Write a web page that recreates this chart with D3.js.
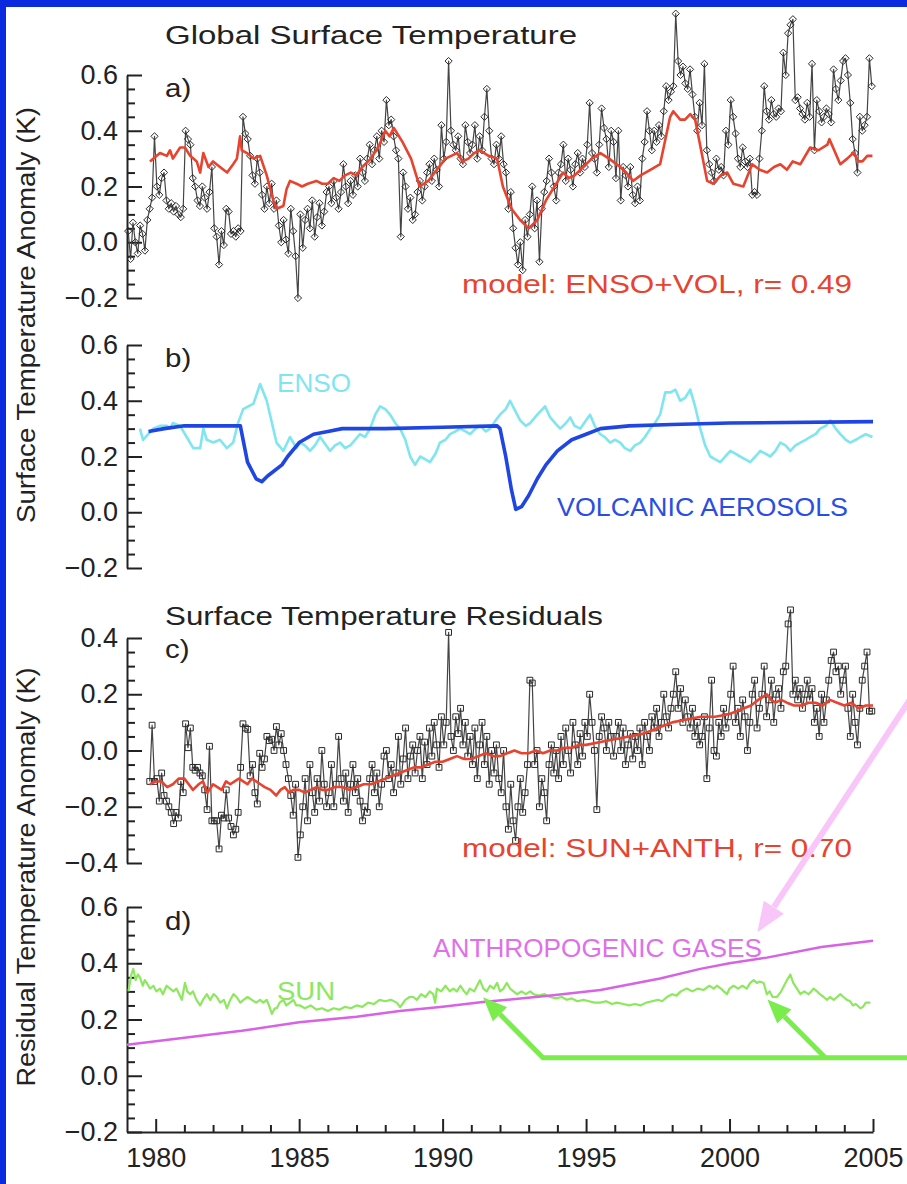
<!DOCTYPE html>
<html><head><meta charset="utf-8">
<script src="https://cdn.jsdelivr.net/npm/d3@7"></script>
<style>
body{margin:0;background:#fff}
svg{display:block}
text{font-family:"Liberation Sans",Arial,sans-serif}
</style>
</head><body>
<svg id="chart" width="907" height="1184"></svg>
<script>
// ---------------- DATA ----------------
const startYear = 1979, endYear = 2005;
const yearTicks = [1980, 1985, 1990, 1995, 2000, 2005];
const tickAB = [-0.2, 0.0, 0.2, 0.4, 0.6];
const tickC = [-0.4, -0.2, 0.0, 0.2, 0.4];

// (a) monthly global surface temperature anomaly, Jan 1979 .. Dec 2004
const tempA = [
  0.04,-0.06,0.07,0.0,-0.04,0.06,0.03,-0.03,0.08,0.12,0.16,0.38,
  0.2,0.17,0.23,0.25,0.15,0.12,0.14,0.11,0.13,0.1,0.09,0.12,
  0.4,0.37,0.35,0.23,0.2,0.15,0.13,0.2,0.16,0.12,0.18,0.27,
  0.05,0.02,-0.08,0.04,-0.01,0.12,0.11,0.03,0.04,0.02,0.05,0.04,
  0.45,0.39,0.37,0.31,0.24,0.21,0.3,0.25,0.17,0.12,0.2,0.14,
  0.21,0.12,0.15,0.06,0.0,0.08,0.01,-0.04,0.12,0.04,-0.05,-0.2,
  0.1,-0.02,0.08,0.12,0.05,0.15,0.02,0.09,0.14,0.06,0.11,0.18,
  0.2,0.14,0.22,0.16,0.12,0.18,0.28,0.2,0.14,0.22,0.17,0.24,
  0.2,0.3,0.25,0.22,0.3,0.35,0.28,0.33,0.38,0.3,0.4,0.36,
  0.51,0.42,0.44,0.38,0.33,0.3,0.02,0.25,0.2,0.12,0.16,0.08,
  0.1,0.18,0.22,0.15,0.2,0.25,0.28,0.22,0.3,0.26,0.2,0.42,
  0.3,0.36,0.65,0.4,0.35,0.33,0.38,0.3,0.28,0.42,0.36,0.32,
  0.35,0.42,0.3,0.38,0.33,0.45,0.55,0.4,0.3,0.28,0.35,0.3,
  0.38,0.28,0.25,0.12,0.18,0.05,-0.02,-0.08,0.0,-0.1,0.08,0.02,
  0.1,0.2,0.05,0.15,-0.07,0.12,0.18,0.22,0.3,0.25,0.2,0.15,
  0.25,0.28,0.35,0.22,0.3,0.26,0.2,0.28,0.32,0.25,0.3,0.27,
  0.35,0.5,0.32,0.3,0.25,0.35,0.48,0.41,0.37,0.27,0.4,0.36,
  0.23,0.4,0.15,0.27,0.24,0.2,0.27,0.17,0.14,0.2,0.15,0.3,
  0.36,0.47,0.4,0.33,0.4,0.36,0.42,0.38,0.47,0.56,0.51,0.54,
  0.56,0.82,0.65,0.6,0.63,0.57,0.55,0.62,0.53,0.45,0.4,0.5,
  0.42,0.64,0.33,0.28,0.25,0.22,0.3,0.26,0.27,0.24,0.4,0.35,
  0.51,0.45,0.39,0.3,0.27,0.34,0.29,0.27,0.3,0.17,0.18,0.17,
  0.3,0.4,0.56,0.47,0.44,0.51,0.46,0.45,0.48,0.47,0.68,0.6,
  0.75,0.78,0.8,0.51,0.52,0.48,0.46,0.44,0.5,0.45,0.64,0.33,
  0.51,0.47,0.43,0.45,0.48,0.46,0.43,0.62,0.55,0.51,0.58,0.65,
  0.66,0.6,0.5,0.37,0.32,0.25,0.45,0.4,0.42,0.45,0.66,0.56
];

// (a) model ENSO+VOL  [year, K]
const modelA = [[1979.8,0.29],[1980.15,0.32],[1980.39,0.31],[1980.5,0.33],[1980.6,0.30],[1980.85,0.34],[1981.02,0.34],[1981.2,0.31],[1981.43,0.29],[1981.55,0.25],[1981.66,0.32],[1981.84,0.27],[1982.0,0.29],[1982.24,0.27],[1982.49,0.25],[1982.7,0.28],[1982.83,0.30],[1982.94,0.38],[1983.0,0.33],[1983.18,0.32],[1983.41,0.30],[1983.64,0.31],[1983.87,0.24],[1984.1,0.15],[1984.21,0.12],[1984.45,0.13],[1984.56,0.19],[1984.68,0.22],[1984.91,0.21],[1985.1,0.20],[1985.3,0.21],[1985.6,0.22],[1985.8,0.21],[1986.0,0.21],[1986.2,0.23],[1986.4,0.22],[1986.6,0.24],[1986.8,0.25],[1987.0,0.24],[1987.2,0.27],[1987.5,0.30],[1987.8,0.35],[1988.0,0.40],[1988.15,0.38],[1988.3,0.41],[1988.6,0.36],[1988.9,0.30],[1989.2,0.20],[1989.5,0.22],[1989.8,0.26],[1990.1,0.30],[1990.3,0.31],[1990.5,0.32],[1990.7,0.29],[1990.9,0.30],[1991.1,0.32],[1991.3,0.33],[1991.6,0.31],[1991.9,0.30],[1992.1,0.20],[1992.4,0.12],[1992.7,0.08],[1993.0,0.05],[1993.3,0.08],[1993.6,0.15],[1993.9,0.20],[1994.2,0.25],[1994.4,0.23],[1994.6,0.24],[1994.9,0.27],[1995.2,0.30],[1995.5,0.32],[1995.8,0.30],[1996.19,0.27],[1996.4,0.25],[1996.64,0.22],[1996.9,0.24],[1997.24,0.26],[1997.58,0.28],[1997.93,0.45],[1998.04,0.47],[1998.28,0.44],[1998.45,0.44],[1998.63,0.46],[1998.8,0.44],[1999.22,0.22],[1999.43,0.21],[1999.7,0.24],[1999.92,0.25],[2000.13,0.21],[2000.48,0.20],[2000.79,0.28],[2001.05,0.26],[2001.31,0.25],[2001.55,0.27],[2001.77,0.28],[2002.0,0.26],[2002.2,0.29],[2002.47,0.28],[2002.81,0.34],[2003.1,0.33],[2003.41,0.35],[2003.48,0.37],[2003.86,0.28],[2004.1,0.30],[2004.31,0.32],[2004.5,0.29],[2004.63,0.29],[2004.8,0.31],[2004.98,0.31]];

// (b) ENSO and volcanic components
const enso = [[1979.45,0.30],[1979.56,0.26],[1979.74,0.28],[1979.91,0.30],[1980.15,0.31],[1980.39,0.31],[1980.5,0.30],[1980.6,0.32],[1980.85,0.31],[1981.08,0.27],[1981.31,0.23],[1981.55,0.23],[1981.66,0.30],[1981.78,0.26],[1982.01,0.25],[1982.24,0.26],[1982.48,0.23],[1982.7,0.25],[1982.87,0.32],[1983.05,0.37],[1983.41,0.39],[1983.64,0.46],[1983.87,0.40],[1984.21,0.25],[1984.45,0.22],[1984.68,0.27],[1984.91,0.23],[1985.03,0.25],[1985.2,0.24],[1985.38,0.22],[1985.55,0.24],[1985.73,0.27],[1085.9,0.25].slice(0,0),[1986.08,0.22],[1986.25,0.24],[1986.43,0.25],[1986.6,0.23],[1986.78,0.24],[1986.95,0.26],[1987.12,0.28],[1987.3,0.27],[1987.47,0.30],[1987.65,0.35],[1987.82,0.38],[1988.0,0.37],[1988.17,0.35],[1988.35,0.32],[1988.52,0.30],[1988.7,0.26],[1988.87,0.20],[1989.04,0.17],[1989.22,0.20],[1989.4,0.19],[1989.56,0.18],[1989.75,0.21],[1989.91,0.25],[1990.1,0.26],[1990.26,0.28],[1990.45,0.29],[1990.61,0.30],[1990.8,0.29],[1990.96,0.28],[1991.15,0.30],[1991.31,0.31],[1991.5,0.29],[1991.66,0.30],[1991.85,0.33],[1992.0,0.35],[1992.2,0.37],[1992.35,0.40],[1992.5,0.37],[1992.7,0.33],[1992.9,0.31],[1993.05,0.32],[1993.3,0.35],[1993.57,0.38],[1993.75,0.34],[1993.92,0.32],[1994.1,0.30],[1994.3,0.32],[1994.45,0.34],[1994.6,0.31],[1994.8,0.30],[1995.0,0.33],[1995.14,0.35],[1995.3,0.31],[1995.49,0.28],[1995.65,0.27],[1995.84,0.25],[1996.0,0.26],[1996.19,0.25],[1996.35,0.23],[1996.54,0.22],[1996.7,0.24],[1996.89,0.25],[1997.05,0.27],[1997.24,0.30],[1997.4,0.32],[1997.58,0.35],[1997.76,0.43],[1997.95,0.43],[1998.11,0.44],[1998.28,0.40],[1998.45,0.41],[1998.63,0.44],[1998.8,0.38],[1998.98,0.30],[1999.15,0.24],[1999.33,0.20],[1999.5,0.19],[1999.68,0.18],[1999.85,0.20],[2000.03,0.22],[2000.2,0.21],[2000.37,0.20],[2000.55,0.19],[2000.72,0.18],[2000.9,0.20],[2001.07,0.22],[2001.25,0.21],[2001.42,0.20],[2001.6,0.22],[2001.77,0.25],[2001.95,0.24],[2002.12,0.22],[2002.3,0.24],[2002.47,0.25],[2002.65,0.26],[2002.81,0.27],[2003.0,0.28],[2003.16,0.30],[2003.35,0.31],[2003.51,0.33],[2003.7,0.30],[2003.86,0.28],[2004.05,0.26],[2004.21,0.25],[2004.4,0.26],[2004.56,0.27],[2004.75,0.28],[2004.98,0.27]].filter(p => p.length === 2);
const volcanic = [[1979.75,0.29],[1980.3,0.30],[1981.0,0.31],[1982.0,0.31],[1982.95,0.31],[1983.2,0.18],[1983.5,0.12],[1983.7,0.11],[1983.9,0.13],[1984.4,0.17],[1984.6,0.20],[1985.0,0.25],[1985.5,0.28],[1986.0,0.29],[1986.5,0.30],[1988.0,0.30],[1990.0,0.305],[1991.9,0.31],[1992.0,0.30],[1992.2,0.20],[1992.4,0.08],[1992.55,0.01],[1992.75,0.02],[1993.0,0.06],[1993.3,0.12],[1993.6,0.17],[1994.0,0.22],[1994.5,0.26],[1995.0,0.28],[1995.5,0.30],[1996.5,0.31],[1998.0,0.315],[2000.0,0.32],[2005.0,0.325]];

// (c) residuals, monthly from Oct 1979 .. Dec 2004
const residStart = 1979 + 9/12;
const residC = [
  -0.11,0.09,-0.11,
  -0.1,-0.18,-0.08,-0.16,-0.18,-0.2,-0.22,-0.26,-0.22,-0.24,-0.11,-0.15,
  0.095,0.01,0.08,-0.06,-0.07,-0.06,-0.08,-0.09,-0.14,-0.21,0.015,-0.25,
  -0.25,-0.25,-0.35,-0.23,-0.24,-0.14,-0.24,-0.27,-0.3,-0.28,-0.22,-0.06,
  0.095,0.08,0.075,-0.09,-0.05,-0.15,-0.19,-0.01,-0.06,-0.03,0.05,0.035,
  0.04,0.0,0.085,0.02,0.06,0.0,-0.05,-0.1,-0.16,-0.23,-0.12,-0.38,
  -0.3,-0.2,-0.1,-0.25,-0.05,-0.15,-0.22,-0.1,-0.18,0.0,-0.12,-0.2,
  -0.15,-0.05,-0.2,-0.12,0.05,-0.1,-0.18,-0.08,-0.22,-0.12,-0.05,-0.15,
  -0.1,-0.18,-0.25,-0.2,-0.22,-0.1,-0.05,-0.15,-0.08,-0.2,-0.12,-0.02,
  0.0,-0.1,-0.05,-0.15,-0.08,0.05,-0.12,-0.03,0.08,-0.1,-0.02,0.02,
  -0.08,0.0,0.05,-0.1,0.03,-0.05,0.08,-0.02,0.1,0.02,-0.06,0.12,
  0.02,0.1,0.42,0.05,0.0,0.12,0.06,0.15,0.02,0.1,-0.02,0.05,
  -0.05,0.08,-0.1,0.02,0.1,-0.05,0.05,-0.12,0.0,-0.08,0.02,-0.1,
  -0.15,0.0,-0.2,-0.28,-0.12,-0.25,-0.32,-0.2,-0.1,-0.22,-0.15,-0.05,
  0.25,0.24,-0.05,0.0,-0.2,-0.1,-0.15,-0.25,-0.05,0.02,-0.08,0.0,
  -0.1,0.05,-0.05,0.08,0.0,-0.08,0.1,0.02,-0.05,0.06,-0.02,0.1,
  0.05,0.2,0.1,0.0,-0.21,0.05,0.12,0.08,0.0,0.1,0.05,-0.02,
  0.05,0.1,0.0,0.08,-0.05,0.02,0.06,-0.03,0.05,0.0,0.08,-0.05,
  0.1,0.05,0.0,0.12,0.08,0.15,0.05,0.1,0.2,0.12,0.08,0.15,
  0.2,0.28,0.15,0.22,0.1,0.18,0.12,0.08,0.15,0.05,0.1,0.02,
  0.05,0.12,-0.1,0.08,0.25,0.0,-0.02,0.1,0.05,0.15,0.08,0.12,
  0.2,0.3,0.1,0.15,0.05,0.18,0.12,0.0,0.1,0.2,0.25,0.08,
  0.15,0.2,0.3,0.12,0.18,0.25,0.1,0.2,0.22,0.15,0.28,0.3,
  0.45,0.5,0.2,0.25,0.18,0.22,0.15,0.2,0.25,0.18,0.22,0.1,
  0.15,0.05,0.2,0.1,0.18,0.25,0.32,0.35,0.28,0.3,0.2,0.25,
  0.3,0.15,0.05,0.2,0.1,0.02,0.15,0.25,0.3,0.35,0.14,0.14
];

// (c) model SUN+ANTH
const modelC = [[1979.8,-0.12],[1980.0,-0.11],[1980.2,-0.11],[1980.4,-0.13],[1980.6,-0.12],[1980.8,-0.10],[1981.0,-0.10],[1981.15,-0.12],[1981.3,-0.14],[1981.5,-0.12],[1981.65,-0.11],[1981.8,-0.15],[1982.0,-0.12],[1982.15,-0.13],[1982.3,-0.14],[1982.45,-0.11],[1982.6,-0.12],[1982.75,-0.11],[1982.9,-0.10],[1983.05,-0.11],[1983.2,-0.12],[1983.35,-0.10],[1983.5,-0.11],[1983.65,-0.12],[1983.8,-0.13],[1984.0,-0.14],[1984.2,-0.16],[1984.35,-0.14],[1984.5,-0.13],[1984.65,-0.15],[1984.8,-0.14],[1985.0,-0.14],[1985.2,-0.15],[1985.4,-0.14],[1985.6,-0.13],[1985.8,-0.14],[1986.0,-0.14],[1986.25,-0.13],[1986.5,-0.13],[1986.75,-0.14],[1987.0,-0.13],[1987.25,-0.12],[1987.5,-0.12],[1987.75,-0.11],[1988.0,-0.10],[1988.25,-0.09],[1988.5,-0.08],[1988.75,-0.07],[1989.0,-0.06],[1989.25,-0.06],[1989.5,-0.05],[1989.75,-0.04],[1990.0,-0.04],[1990.25,-0.03],[1990.5,-0.02],[1990.75,-0.03],[1991.0,-0.03],[1991.25,-0.02],[1991.5,-0.01],[1991.75,-0.02],[1992.0,-0.02],[1992.25,-0.01],[1992.5,0.0],[1992.75,-0.01],[1993.0,-0.01],[1993.25,0.0],[1993.5,-0.01],[1993.75,0.0],[1994.0,0.0],[1994.25,0.01],[1994.5,0.01],[1994.75,0.02],[1995.0,0.02],[1995.5,0.03],[1996.0,0.04],[1996.5,0.05],[1997.0,0.06],[1997.5,0.08],[1998.0,0.10],[1998.5,0.11],[1999.0,0.12],[1999.5,0.12],[2000.0,0.13],[2000.25,0.14],[2000.5,0.15],[2000.75,0.16],[2001.0,0.18],[2001.15,0.19],[2001.3,0.20],[2001.45,0.18],[2001.6,0.17],[2001.8,0.18],[2002.0,0.17],[2002.25,0.16],[2002.5,0.16],[2002.75,0.17],[2003.0,0.17],[2003.25,0.16],[2003.5,0.18],[2003.75,0.17],[2004.0,0.16],[2004.25,0.17],[2004.5,0.15],[2004.75,0.16],[2005.0,0.16]];

// (d) solar and anthropogenic components
const sun = [[1979.05,0.30],[1979.15,0.36],[1979.22,0.38],[1979.3,0.34],[1979.38,0.36],[1979.45,0.35],[1979.55,0.32],[1979.62,0.34],[1979.69,0.33],[1979.8,0.31],[1979.92,0.32],[1980.02,0.30],[1980.15,0.31],[1980.25,0.29],[1980.38,0.32],[1980.5,0.31],[1980.62,0.30],[1980.72,0.31],[1980.82,0.29],[1980.91,0.27],[1981.02,0.33],[1981.1,0.30],[1981.2,0.29],[1981.3,0.30],[1981.42,0.27],[1981.55,0.25],[1981.65,0.27],[1981.78,0.29],[1981.9,0.27],[1982.02,0.29],[1982.13,0.28],[1982.25,0.26],[1982.38,0.27],[1982.48,0.24],[1982.6,0.27],[1982.71,0.29],[1982.82,0.28],[1982.95,0.26],[1983.06,0.27],[1983.2,0.28],[1983.35,0.27],[1983.5,0.26],[1983.64,0.27],[1983.75,0.26],[1983.87,0.27],[1983.95,0.25],[1984.05,0.22],[1984.15,0.24],[1984.22,0.24],[1984.32,0.26],[1984.45,0.27],[1984.55,0.25],[1984.68,0.26],[1984.8,0.27],[1984.9,0.25],[1985.03,0.25],[1985.2,0.24],[1985.4,0.25],[1985.6,0.235],[1985.8,0.24],[1986.0,0.23],[1986.2,0.24],[1986.4,0.235],[1986.6,0.245],[1986.8,0.24],[1987.0,0.25],[1987.2,0.245],[1987.4,0.26],[1987.6,0.255],[1987.8,0.27],[1988.0,0.265],[1988.2,0.27],[1988.4,0.26],[1988.52,0.244],[1988.7,0.27],[1988.85,0.28],[1988.98,0.28],[1989.1,0.27],[1989.25,0.29],[1989.4,0.28],[1989.55,0.30],[1989.67,0.29],[1989.74,0.26],[1989.8,0.31],[1989.95,0.30],[1990.1,0.32],[1990.25,0.30],[1990.37,0.31],[1990.5,0.30],[1990.62,0.32],[1990.75,0.30],[1990.84,0.29],[1990.95,0.31],[1991.1,0.30],[1991.2,0.32],[1991.3,0.34],[1991.42,0.31],[1991.54,0.30],[1991.65,0.32],[1991.78,0.31],[1991.9,0.33],[1992.0,0.30],[1992.12,0.31],[1992.24,0.33],[1992.35,0.31],[1992.47,0.30],[1992.59,0.29],[1992.75,0.30],[1992.9,0.29],[1993.05,0.30],[1993.17,0.29],[1993.35,0.285],[1993.55,0.29],[1993.75,0.28],[1993.95,0.275],[1994.15,0.28],[1994.33,0.27],[1994.5,0.275],[1994.7,0.265],[1994.91,0.27],[1995.1,0.265],[1995.3,0.26],[1995.49,0.26],[1995.7,0.265],[1995.9,0.255],[1996.07,0.26],[1996.3,0.255],[1996.5,0.25],[1996.7,0.255],[1996.89,0.25],[1997.1,0.26],[1997.3,0.265],[1997.5,0.27],[1997.65,0.265],[1997.82,0.28],[1998.0,0.29],[1998.15,0.285],[1998.3,0.30],[1998.51,0.31],[1998.7,0.30],[1998.9,0.31],[1999.1,0.305],[1999.3,0.32],[1999.45,0.31],[1999.56,0.32],[1999.7,0.31],[1999.8,0.30],[1999.91,0.29],[2000.0,0.31],[2000.14,0.32],[2000.3,0.31],[2000.45,0.32],[2000.6,0.31],[2000.72,0.33],[2000.84,0.34],[2000.95,0.33],[2001.05,0.335],[2001.19,0.33],[2001.3,0.29],[2001.4,0.30],[2001.5,0.28],[2001.65,0.28],[2001.8,0.30],[2001.9,0.32],[2002.0,0.34],[2002.12,0.36],[2002.22,0.33],[2002.35,0.31],[2002.47,0.29],[2002.6,0.30],[2002.75,0.29],[2002.85,0.30],[2002.93,0.31],[2003.05,0.30],[2003.15,0.29],[2003.28,0.28],[2003.4,0.27],[2003.5,0.28],[2003.63,0.27],[2003.75,0.28],[2003.86,0.29],[2003.97,0.28],[2004.09,0.27],[2004.2,0.265],[2004.3,0.25],[2004.4,0.255],[2004.56,0.24],[2004.65,0.245],[2004.75,0.26],[2004.91,0.26]];
const anthro = [[1979.0,0.11],[1981.0,0.135],[1983.0,0.16],[1985.0,0.19],[1987.0,0.21],[1988.5,0.23],[1990.0,0.245],[1991.4,0.262],[1993.85,0.286],[1995.5,0.305],[1997.58,0.346],[1998.98,0.38],[2000.0,0.40],[2001.3,0.42],[2003.2,0.458],[2005.0,0.48]];

// annotation arrows in panel (d) data units
const pinkArrow = [[2006.3, 1.34], [2000.97, 0.51]];
const greenArrow1 = [[2006.3, 0.064], [1993.5, 0.064], [1991.41, 0.279]];
const greenArrow2 = [[2003.34, 0.064], [2001.32, 0.271]];

// ---------------- DRAWING ----------------
const svg = d3.select("#chart");
const W = 907, H = 1184;
svg.append("rect").attr("width", W).attr("height", H).attr("fill", "#0b2ae0");
svg.append("rect").attr("x", 6).attr("y", 7).attr("width", W - 6).attr("height", H - 7).attr("fill", "#fff");

const x = d3.scaleLinear().domain([startYear, endYear]).range([127, 873]);
const yA = d3.scaleLinear().domain([-0.2, 0.6]).range([298, 75]);
const yB = d3.scaleLinear().domain([-0.2, 0.6]).range([568, 345]);
const yC = d3.scaleLinear().domain([-0.4, 0.4]).range([863, 638]);
const yD = d3.scaleLinear().domain([-0.2, 0.6]).range([1132, 907]);

const AX = "#222";
function styleAxis(g) {
  g.selectAll(".domain").attr("stroke", AX).attr("stroke-width", 2);
  g.selectAll(".tick line").attr("stroke", AX).attr("stroke-width", 2);
  g.selectAll(".tick text").attr("font-size", 27).attr("fill", AX)
    .attr("font-family", '"Liberation Sans",Arial,sans-serif');
  g.attr("font-family", null).attr("font-size", null);
}
function yAxis(y, majors) {
  const [lo, hi] = y.domain();
  const minors = d3.range(Math.round(lo * 20), Math.round(hi * 20) + 1).map(k => k / 20)
    .filter(v => !majors.some(m => Math.abs(m - v) < 1e-6));
  const g = svg.append("g").attr("transform", `translate(${x(startYear)},0)`);
  g.call(d3.axisLeft(y).tickValues(majors).tickSize(-15).tickSizeOuter(0).tickPadding(9).tickFormat(d3.format(".1f")));
  g.append("g").call(d3.axisLeft(y).tickValues(minors).tickSize(-8).tickSizeOuter(0).tickFormat(""))
    .select(".domain").remove();
  styleAxis(g);
}
yAxis(yA, tickAB);
yAxis(yB, tickAB);
yAxis(yC, tickC);
yAxis(yD, tickAB);

// x axis (bottom of panel d)
{
  const g = svg.append("g").attr("transform", `translate(0,${yD(-0.2)})`);
  g.call(d3.axisBottom(x).tickValues(yearTicks).tickSize(-13).tickSizeOuter(0).tickPadding(16).tickFormat(d3.format("d")));
  const minorYears = d3.range(startYear + 1, endYear).filter(yv => yv % 5 !== 0);
  g.append("g").call(d3.axisBottom(x).tickValues(minorYears).tickSize(-7).tickSizeOuter(0).tickFormat(""))
    .select(".domain").remove();
  styleAxis(g);
}

const monthT = i => startYear + (i + 0.5) / 12;
const seriesA = tempA.map((v, i) => ({t: monthT(i), v}));
const seriesC = residC.map((v, i) => ({t: residStart + (i + 0.5) / 12, v}));
const pairs = arr => arr.map(([t, v]) => ({t, v}));

function drawLine(data, y, color, width) {
  svg.append("path").datum(data)
    .attr("fill", "none").attr("stroke", color).attr("stroke-width", width)
    .attr("stroke-linejoin", "round")
    .attr("d", d3.line().x(d => x(d.t)).y(d => y(d.v)));
}

// panel a
drawLine(seriesA, yA, "#444", 1.2);
svg.append("g").selectAll("path").data(seriesA).join("path")
  .attr("transform", d => `translate(${x(d.t)},${yA(d.v)})`)
  .attr("d", "M0,-3.6L3.6,0L0,3.6L-3.6,0Z")
  .attr("fill", "none").attr("stroke", "#2a2a2a").attr("stroke-width", 1);
drawLine(pairs(modelA), yA, "#e8432f", 2.6);

// panel b
drawLine(pairs(enso), yB, "#7fe6f0", 2.6);
drawLine(pairs(volcanic), yB, "#1f45e3", 3.6);

// panel c
drawLine(seriesC, yC, "#444", 1.2);
svg.append("g").selectAll("path").data(seriesC).join("path")
  .attr("transform", d => `translate(${x(d.t)},${yC(d.v)})`)
  .attr("d", "M-2.9,-2.9H2.9V2.9H-2.9Z")
  .attr("fill", "none").attr("stroke", "#2a2a2a").attr("stroke-width", 1);
drawLine(pairs(modelC), yC, "#e8432f", 2.6);

// panel d
drawLine(pairs(sun), yD, "#8ce85c", 2.2);
drawLine(pairs(anthro), yD, "#d862e4", 2.5);

// ---------------- TEXT ----------------
const STRETCH = 1.18;
function label(txt, lx, ly, color, size, opts = {}) {
  const t = svg.append("text").attr("x", lx).attr("y", ly).attr("fill", color)
    .attr("font-size", size).text(txt);
  const w = opts.width || t.node().getComputedTextLength() * STRETCH;
  t.attr("textLength", w).attr("lengthAdjust", "spacingAndGlyphs");
  if (opts.rotate) {
    t.attr("text-anchor", "middle").attr("transform", `rotate(-90,${lx},${ly})`);
  }
  return t;
}
label("Global Surface Temperature", 165, 44, "#222", 25, {width: 412});
label("a)", 165, 97, "#222", 25);
label("b)", 165, 367, "#222", 25);
label("Surface Temperature Residuals", 165, 625, "#222", 25, {width: 438});
label("c)", 165, 658, "#222", 25);
label("d)", 165, 930, "#222", 25);
label("model: ENSO+VOL, r=  0.49", 462, 293, "#e8432f", 25, {width: 390});
label("ENSO", 277, 392, "#7fe6f0", 25, {width: 74});
label("VOLCANIC AEROSOLS", 557, 516, "#2a4ee3", 25, {width: 291});
label("model: SUN+ANTH, r=  0.70", 462, 857, "#e8432f", 25, {width: 390});
label("ANTHROPOGENIC GASES", 433, 957, "#e070ea", 25, {width: 329});
label("SUN", 277, 1000, "#8ce85c", 25, {width: 58});
label("Surface Temperature Anomaly (K)", 35, 315, "#222", 25, {width: 416, rotate: true});
label("Residual Temperature Anomaly (K)", 35, 877, "#222", 25, {width: 419, rotate: true});

// ---------------- ANNOTATION ARROWS ----------------
function arrow(pts, color, width, headLen, headW) {
  const P = pts.map(([t, v]) => [x(t), yD(v)]);
  const n = P.length;
  const [x1, y1] = P[n - 2], [x2, y2] = P[n - 1];
  const ang = Math.atan2(y2 - y1, x2 - x1);
  const bx = x2 - headLen * Math.cos(ang), by = y2 - headLen * Math.sin(ang);
  const shaft = P.slice(0, n - 1).concat([[bx, by]]);
  svg.append("path").attr("d", d3.line()(shaft)).attr("fill", "none")
    .attr("stroke", color).attr("stroke-width", width).attr("stroke-linejoin", "miter");
  const px = -Math.sin(ang) * headW / 2, py = Math.cos(ang) * headW / 2;
  svg.append("path")
    .attr("d", `M${x2},${y2}L${bx + px},${by + py}L${bx - px},${by - py}Z`)
    .attr("fill", color);
}
arrow(pinkArrow, "#f9c6f9", 6, 30, 24);
arrow(greenArrow1, "#7aec4c", 5, 24, 20);
arrow(greenArrow2, "#7aec4c", 5, 24, 20);
</script>
</body></html>
